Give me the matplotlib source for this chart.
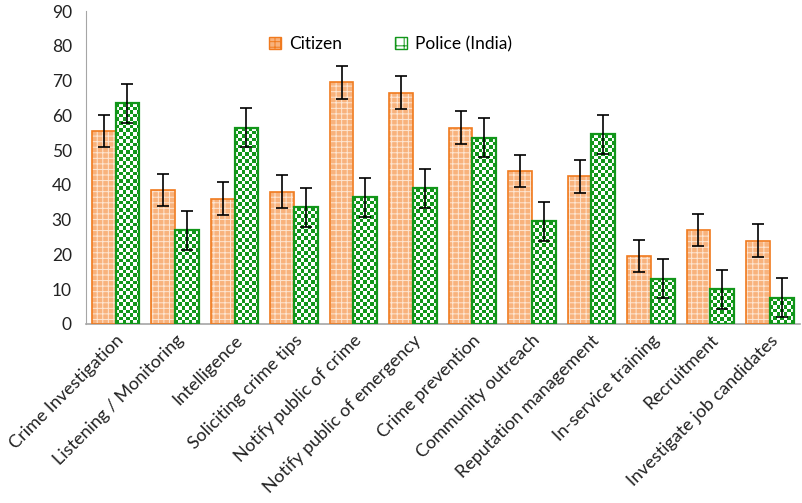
import numpy as np
import matplotlib
matplotlib.use("Agg")
import matplotlib.pyplot as plt
from matplotlib.patches import Patch

categories = ["Crime Investigation", "Listening / Monitoring", "Intelligence",
              "Soliciting crime tips", "Notify public of crime",
              "Notify public of emergency", "Crime prevention",
              "Community outreach", "Reputation management",
              "In-service training", "Recruitment", "Investigate job candidates"]
citizen = [55.5, 38.5, 36, 38, 69.5, 66.5, 56.5, 44, 42.5, 19.5, 27, 24]
police = [63.5, 27, 56.5, 33.5, 36.5, 39, 53.5, 29.5, 54.5, 13, 10, 7.5]
citizen_err = [4.7, 4.7, 4.7, 4.7, 4.7, 4.7, 4.7, 4.7, 4.7, 4.7, 4.7, 4.7]
police_err = [5.6, 5.6, 5.6, 5.6, 5.6, 5.6, 5.6, 5.6, 5.6, 5.6, 5.6, 5.6]
yticks = [0, 10, 20, 30, 40, 50, 60, 70, 80, 90]

plt.rcParams['font.family'] = ['Lato', 'DejaVu Sans']
plt.rcParams['hatch.linewidth'] = 0.7

fig = plt.figure(figsize=(8.02, 5.03), dpi=100)
ax = fig.add_axes([0.107, 0.356, 0.890, 0.622])

x = np.arange(len(categories))
w = 0.40
ax.set_xlim(-0.5, len(categories) - 0.5)
ax.set_ylim(0, 90)

orange_edge = "#F07A1E"
orange_fill = "#F8B27C"
green = "#12961A"

# Citizen bars: orange with a fine light grid texture, orange outline
ax.bar(x - w / 2, citizen, w, color=orange_fill, edgecolor="#FDE6D3",
       linewidth=0, hatch="+++", zorder=2)
ax.bar(x - w / 2, citizen, w, facecolor="none", edgecolor=orange_edge,
       linewidth=1.2, zorder=3)

# Police bars: green/white checkerboard clipped to each bar
pol_bars = ax.bar(x + w / 2, police, w, facecolor="white", edgecolor=green,
                  linewidth=1.4, zorder=2)
fig.canvas.draw()
sq = 3.6  # checker square size in pixels
g = matplotlib.colors.to_rgb(green)
for rect in pol_bars:
    x0, y0 = rect.get_x(), rect.get_y()
    x1, y1 = x0 + rect.get_width(), y0 + rect.get_height()
    (px0, py0), (px1, py1) = ax.transData.transform([(x0, y0), (x1, y1)])
    nx = max(1, int(round((px1 - px0) / sq)))
    ny = max(1, int(round((py1 - py0) / sq)))
    board = (np.add.outer(np.arange(ny), np.arange(nx)) % 2)
    rgba = np.ones((ny, nx, 4))
    rgba[board == 0, :3] = g
    im = ax.imshow(rgba, extent=(x0, x1, y0, y1), origin="lower",
                   interpolation="nearest", aspect="auto", zorder=2.5)
    im.set_clip_path(rect)
    ax.add_patch(plt.Rectangle((x0, y0), x1 - x0, y1 - y0, facecolor="none",
                               edgecolor=green, linewidth=1.6, zorder=3))

ax.errorbar(x - w / 2, citizen, yerr=citizen_err, fmt="none", ecolor="black",
            elinewidth=1.2, capsize=4, capthick=1.2, zorder=4)
ax.errorbar(x + w / 2, police, yerr=police_err, fmt="none", ecolor="black",
            elinewidth=1.2, capsize=4, capthick=1.2, zorder=4)

ax.set_aspect("auto")
ax.set_yticks(yticks)
ax.set_yticklabels([str(t) for t in yticks], fontsize=12.5, color="#222222")
ax.set_xticks(x)
ax.set_xticklabels(categories, rotation=45, ha="right", rotation_mode="anchor",
                   fontsize=13, color="#222222")
ax.tick_params(axis="both", length=0, pad=6)
ax.tick_params(axis="y", pad=10)
for s in ["top", "right"]:
    ax.spines[s].set_visible(False)
ax.spines["left"].set_color("#A6A6A6")
ax.spines["bottom"].set_color("#A6A6A6")
ax.spines["bottom"].set_linewidth(1.2)

handles = [Patch(facecolor=orange_fill, edgecolor=orange_edge, hatch="+++", label="Citizen"),
           Patch(facecolor="white", edgecolor=green, hatch="++", label="Police (India)")]
ax.legend(handles=handles, loc="center", bbox_to_anchor=(0.427, 0.895),
          ncol=2, frameon=False, fontsize=12.5, handlelength=0.7,
          handleheight=0.7, columnspacing=3.0, handletextpad=0.5)

fig.savefig("out.png", dpi=100)
